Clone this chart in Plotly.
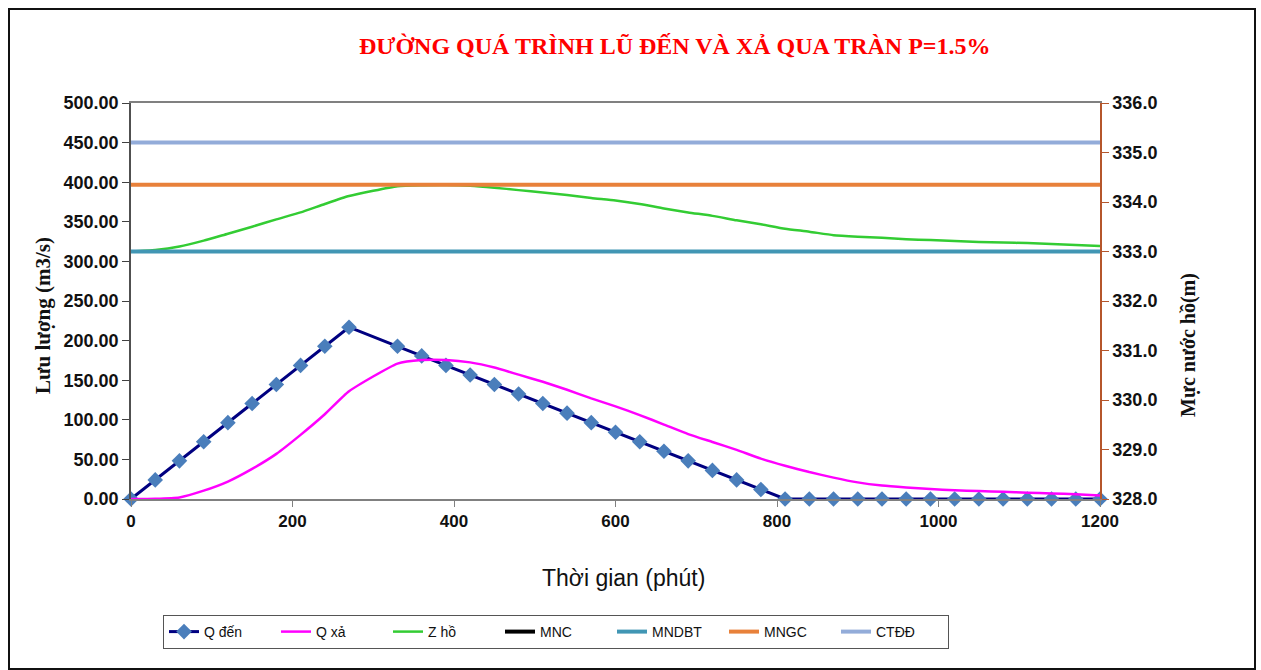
import plotly.graph_objects as go

# ---- data ----
time_min = [0, 30, 60, 90, 120, 150, 180, 210, 240, 270,
            330, 360, 390, 420, 450, 480, 510, 540, 570, 600,
            630, 660, 690, 720, 750, 780, 810, 840, 870, 900,
            930, 960, 990, 1020, 1050, 1080, 1110, 1140, 1170, 1200]

q_den = [0, 24.1, 48.2, 72.3, 96.4, 120.5, 144.6, 168.7, 192.8, 216.9,
         192.8, 180.7, 168.7, 156.6, 144.6, 132.5, 120.5, 108.4, 96.4, 84.3,
         72.3, 60.2, 48.2, 36.1, 24.1, 12.0, 0, 0, 0, 0,
         0, 0, 0, 0, 0, 0, 0, 0, 0, 0]

q_xa = [0, 0.3, 2.0, 10.5, 22, 38, 57, 81, 107, 136,
        171, 175.5, 175.5, 172.5, 166, 157, 148, 138, 127, 117,
        106, 94, 82, 72, 62, 51, 42, 34, 27, 21,
        17, 14.5, 12.5, 11, 10, 9, 8, 7, 6, 4.5]

z_ho = [333.00, 333.03, 333.10, 333.22, 333.36, 333.50, 333.65, 333.79, 333.96, 334.12,
        334.32, 334.34, 334.345, 334.33, 334.29, 334.24, 334.19, 334.14, 334.08, 334.03,
        333.96, 333.87, 333.79, 333.72, 333.63, 333.55, 333.46, 333.40, 333.33, 333.30,
        333.28, 333.25, 333.23, 333.21, 333.19, 333.18, 333.17, 333.15, 333.13, 333.11]

level_x = [0, 1200]
mnc = 326.0
mndbt = 333.0
mngc = 334.35
ctdd = 335.2

x_ticks = [0, 200, 400, 600, 800, 1000, 1200]
y_ticks = [0, 50, 100, 150, 200, 250, 300, 350, 400, 450, 500]
y2_ticks = [328, 329, 330, 331, 332, 333, 334, 335, 336]

# ---- figure ----
W, H = 1261, 670
L, R, T, B = 131, 161, 103, 171
pw, ph = W - L - R, H - T - B

def px(xp):
    return (xp - L) / pw

def py(yp):
    return (H - B - yp) / ph

narrow = "Liberation Sans Narrow, Arial Narrow, Liberation Sans, Arial"
serif = "Liberation Serif, Times New Roman, serif"

fig = go.Figure()

fig.add_trace(go.Scatter(
    x=time_min, y=q_den, name="Q đến", mode="lines+markers",
    line=dict(color="#000080", width=3),
    marker=dict(symbol="diamond", size=12, color="#4A7EBB"),
    cliponaxis=False, yaxis="y"))
fig.add_trace(go.Scatter(
    x=time_min, y=q_xa, name="Q xả", mode="lines",
    line=dict(color="#FF00FF", width=2.5, shape="spline", smoothing=0.5),
    yaxis="y"))
fig.add_trace(go.Scatter(
    x=time_min, y=z_ho, name="Z hồ", mode="lines",
    line=dict(color="#33CC33", width=2.5, shape="spline", smoothing=0.5),
    yaxis="y2"))
fig.add_trace(go.Scatter(
    x=level_x, y=[mnc, mnc], name="MNC", mode="lines",
    line=dict(color="#000000", width=4), yaxis="y2"))
fig.add_trace(go.Scatter(
    x=level_x, y=[mndbt, mndbt], name="MNDBT", mode="lines",
    line=dict(color="#4196B4", width=4), yaxis="y2"))
fig.add_trace(go.Scatter(
    x=level_x, y=[mngc, mngc], name="MNGC", mode="lines",
    line=dict(color="#E8813A", width=4), yaxis="y2"))
fig.add_trace(go.Scatter(
    x=level_x, y=[ctdd, ctdd], name="CTĐĐ", mode="lines",
    line=dict(color="#93ACD9", width=4), yaxis="y2"))

fig.update_layout(
    width=W, height=H,
    margin=dict(l=L, r=R, t=T, b=B, pad=0, autoexpand=False),
    paper_bgcolor="white", plot_bgcolor="white",
    showlegend=True,
    xaxis=dict(range=[0, 1200], tickvals=x_ticks, ticks="outside", ticklen=6,
               tickcolor="#808080", showline=True, linecolor="#808080", linewidth=1.5,
               mirror=True, showgrid=False, zeroline=False,
               tickfont=dict(family=narrow, size=17, color="#111111", weight="bold")),
    yaxis=dict(range=[0, 500], tickvals=y_ticks, tickformat=".2f", ticks="outside",
               ticklen=7, tickcolor="#404040", showline=True, linecolor="#505050",
               linewidth=1.5, showgrid=False, zeroline=False,
               tickfont=dict(family="Liberation Sans, Arial", size=18, color="#111111", weight="bold")),
    yaxis2=dict(range=[328, 336], tickvals=y2_ticks, tickformat=".1f", overlaying="y",
                side="right", ticks="outside", ticklen=7, tickcolor="#B5562B",
                showline=True, linecolor="#B5562B", linewidth=1.5, showgrid=False,
                zeroline=False,
                tickfont=dict(family="Liberation Sans, Arial", size=18, color="#111111", weight="bold")),
    legend=dict(orientation="h", x=px(163), y=py(615), xanchor="left", yanchor="top",
                bordercolor="#555555", borderwidth=1, bgcolor="white",
                entrywidth=67, entrywidthmode="pixels", itemwidth=30,
                font=dict(family=narrow, size=14, color="#111111"),
                traceorder="normal"),
)

fig.add_annotation(text="ĐƯỜNG QUÁ TRÌNH LŨ ĐẾN VÀ XẢ QUA TRÀN P=1.5%",
                   xref="paper", yref="paper", x=px(675), y=py(46),
                   xanchor="center", yanchor="middle", showarrow=False,
                   font=dict(family=serif, size=24, color="#FF0000", weight="bold"))
fig.add_annotation(text="Lưu lượng (m3/s)", xref="paper", yref="paper",
                   x=px(43), y=py(316), xanchor="center", yanchor="middle",
                   textangle=-90, showarrow=False,
                   font=dict(family=serif, size=21, color="#111111", weight="bold"))
fig.add_annotation(text="Mực nước hồ(m)", xref="paper", yref="paper",
                   x=px(1188), y=py(345), xanchor="center", yanchor="middle",
                   textangle=-90, showarrow=False,
                   font=dict(family=serif, size=20, color="#111111", weight="bold"))
fig.add_annotation(text="Thời gian (phút)", xref="paper", yref="paper",
                   x=px(623), y=py(578), xanchor="center", yanchor="middle",
                   showarrow=False,
                   font=dict(family=narrow, size=23, color="#111111"))

# outer frame
fig.add_shape(type="rect", xref="paper", yref="paper",
              x0=px(9), x1=px(1255), y0=py(669), y1=py(9),
              line=dict(color="#111111", width=2), fillcolor="rgba(0,0,0,0)", layer="below")

fig.write_html("out.html")
